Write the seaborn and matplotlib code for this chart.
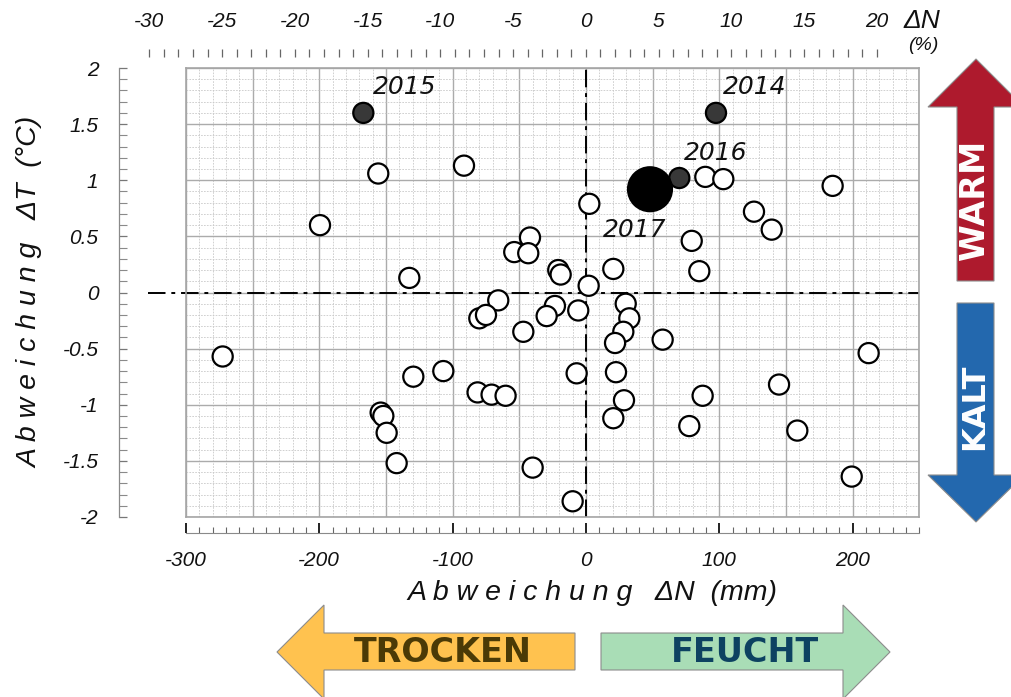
import numpy as np
import pandas as pd
import matplotlib
matplotlib.use("Agg")
import matplotlib.pyplot as plt
import seaborn as sns
from matplotlib.ticker import MultipleLocator, FuncFormatter
from matplotlib.patches import Polygon

# ---------------- data ----------------
# Abweichung Niederschlag (mm) and Temperatur (°C), one point per year
dN_mm = [-155.8, -91.5, -199.5, -132.5, 2.5, -42, -53.8, -43.3, -20.8, -19, 2,
         -65.8, -80, -75, -23.3, -29.5, -5.8, -47, -272.5, -129.5, -107, -7,
         -81.3, -70.8, -60.3, -154, -152, -149.5, -142, -40, -10,
         89.5, 103, 185, 126, 139.3, 79.3, 85, 20.5,
         29.8, 32.5, 28, 21.8, 57.5, 212, 22.5, 87.5, 144.8, 28.5, 20.5, 77.5,
         158.5, 199.3,
         97.5, -167, 70, 48]
dT_C = [1.06, 1.13, 0.60, 0.13, 0.79, 0.49, 0.36, 0.35, 0.20, 0.16, 0.06,
        -0.07, -0.23, -0.20, -0.12, -0.21, -0.16, -0.35, -0.57, -0.75, -0.70, -0.72,
        -0.89, -0.91, -0.92, -1.07, -1.10, -1.25, -1.52, -1.56, -1.86,
        1.03, 1.01, 0.95, 0.72, 0.56, 0.46, 0.19, 0.21,
        -0.10, -0.23, -0.35, -0.45, -0.42, -0.54, -0.71, -0.92, -0.82, -0.96, -1.12, -1.19,
        -1.23, -1.64,
        1.60, 1.60, 1.02, 0.92]
year_label = [""] * 53 + ["2014", "2015", "2016", "2017"]
kind = ["normal"] * 53 + ["recent", "recent", "recent", "current"]

x_ticks_mm = [-300, -200, -100, 0, 100, 200]
y_ticks_C = [2, 1.5, 1, 0.5, 0, -0.5, -1, -1.5, -2]
top_ticks_pct = [-30, -25, -20, -15, -10, -5, 0, 5, 10, 15, 20]

df = pd.DataFrame({"dN": dN_mm, "dT": dT_C, "year": year_label, "kind": kind})

# ---------------- figure ----------------
sns.set_theme(style="white")
plt.rcParams["font.family"] = ["Liberation Sans", "DejaVu Sans"]
plt.rcParams["axes.unicode_minus"] = False

W, H = 1012, 697
fig = plt.figure(figsize=(W / 100, H / 100), dpi=100)


def fx(px):
    return px / W


def fy(py):
    return 1 - py / H


# main plotting area
ax = fig.add_axes([fx(186), fy(517), fx(733.3), 449 / H])
ax.set_xlim(-300, 250)
ax.set_ylim(-2, 2)
ax.xaxis.set_major_locator(MultipleLocator(50))
ax.xaxis.set_minor_locator(MultipleLocator(10))
ax.yaxis.set_major_locator(MultipleLocator(0.5))
ax.yaxis.set_minor_locator(MultipleLocator(0.1))
ax.tick_params(which="both", length=0, labelbottom=False, labelleft=False)
ax.grid(which="major", color="#ababab", lw=1.0, ls="-")
ax.grid(which="minor", color="#c9c9c9", lw=0.6, ls=(0, (2, 1.5)))
ax.set_axisbelow(True)
for s in ax.spines.values():
    s.set_color("#a5a5a5")
    s.set_linewidth(1.2)

# reference lines
dashdot = (0, (9, 3, 2, 3))
ax.axhline(0, xmin=-0.052, xmax=1, color="black", lw=1.4, ls=dashdot,
           clip_on=False, zorder=2)
ax.axvline(0, color="black", lw=1.4, ls=dashdot, zorder=2)

sns.scatterplot(data=df, x="dN", y="dT", hue="kind", size="kind",
                palette={"normal": "white", "recent": "#383838", "current": "black"},
                sizes={"normal": 210, "recent": 210, "current": 1000},
                edgecolor="black", linewidth=1.6, legend=False, ax=ax, zorder=3)
ax.set_xlabel("")
ax.set_ylabel("")

offsets = {"2015": (30, 19), "2014": (28, 19), "2016": (26, 18), "2017": (-11, -29)}
for _, r in df[df["year"] != ""].iterrows():
    ax.annotate(r["year"], (r["dN"], r["dT"]), xytext=offsets[r["year"]],
                textcoords="offset points", ha="center", va="center",
                fontsize=18, style="italic", family="DejaVu Sans", color="#111111",
                zorder=5)

# bottom ruler (mm)
axb = fig.add_axes([fx(186), fy(533), fx(733.3), 0.0001])
axb.set_xlim(-300, 250)
axb.set_facecolor("none")
axb.set_yticks([])
axb.set_xticks(x_ticks_mm)
axb.xaxis.set_minor_locator(MultipleLocator(10))
for k in ["top", "left", "right"]:
    axb.spines[k].set_visible(False)
axb.spines["bottom"].set_color("#8a8a8a")
axb.spines["bottom"].set_linewidth(0.8)
axb.tick_params(axis="x", which="both", bottom=True, top=False)
axb.tick_params(axis="x", which="major", direction="in", length=7, width=1.3,
                color="#111111", pad=13, labelsize=15, labelcolor="#111111")
axb.tick_params(axis="x", which="minor", direction="in", length=4, width=0.8,
                color="#666666")
for t in axb.get_xticklabels():
    t.set_style("italic")

# left ruler (°C)
axl = fig.add_axes([fx(119.3), fy(517), 0.0001, 449 / H])
axl.set_ylim(-2, 2)
axl.set_facecolor("none")
axl.set_xticks([])
axl.set_yticks(y_ticks_C)
axl.yaxis.set_minor_locator(MultipleLocator(0.1))
axl.yaxis.set_major_formatter(FuncFormatter(lambda v, p: f"{v:g}"))
for k in ["top", "bottom", "right"]:
    axl.spines[k].set_visible(False)
axl.spines["left"].set_color("#8a8a8a")
axl.spines["left"].set_linewidth(0.9)
axl.tick_params(axis="y", which="both", left=True, right=False)
axl.tick_params(axis="y", which="major", direction="in", length=6, width=0.9,
                color="#777777", pad=15, labelsize=15, labelcolor="#111111")
axl.tick_params(axis="y", which="minor", direction="in", length=6, width=0.8,
                color="#8a8a8a")
for t in axl.get_yticklabels():
    t.set_style("italic")

# top ruler (%)
axt = fig.add_axes([fx(149.3), fy(57), fx(727.7), 0.0001])
axt.set_xlim(-30, 20)
axt.set_facecolor("none")
axt.set_yticks([])
axt.set_xticks(top_ticks_pct)
axt.xaxis.set_minor_locator(MultipleLocator(1))
for s in axt.spines.values():
    s.set_visible(False)
axt.tick_params(axis="x", which="both", top=True, bottom=False, labeltop=True,
                labelbottom=False, direction="out", length=6, width=0.9,
                color="#666666")
axt.tick_params(axis="x", which="major", pad=13, labelsize=15, labelcolor="#111111")
for t in axt.get_xticklabels():
    t.set_style("italic")

# axis titles
fig.text(fx(592), fy(593), "A b w e i c h u n g   ΔN  (mm)", ha="center", va="center",
         fontsize=20.5, style="italic", color="#111111")
fig.text(fx(30), fy(292), "A b w e i c h u n g   ΔT  (°C)", ha="center", va="center",
         rotation=90, fontsize=20.5, style="italic", color="#111111")
fig.text(fx(922), fy(21), "ΔN", ha="center", va="center", fontsize=19,
         style="italic", color="#111111")
fig.text(fx(923), fy(45), "(%)", ha="center", va="center", fontsize=14,
         style="italic", color="#111111")


# decorative arrows
def arrow(pts, color):
    poly = Polygon([(fx(x), fy(y)) for x, y in pts], closed=True,
                   transform=fig.transFigure, facecolor=color,
                   edgecolor="#8c8c8c", lw=0.8, zorder=1)
    fig.patches.append(poly)


arrow([(277, 652), (324, 605), (324, 633), (575, 633), (575, 670), (324, 670),
       (324, 699)], "#FFC24F")
arrow([(890, 652), (843, 605), (843, 633), (601, 633), (601, 670), (843, 670),
       (843, 699)], "#A9DDB6")
arrow([(976, 59), (1024, 107), (994, 107), (994, 281), (957, 281), (957, 107),
       (928, 107)], "#AE1A2D")
arrow([(976, 522), (1024, 475), (994, 475), (994, 303), (957, 303), (957, 475),
       (928, 475)], "#2368AE")

fig.text(fx(443), fy(652), "TROCKEN", ha="center", va="center", fontsize=24,
         weight="bold", family="DejaVu Sans", color="#4B3A06")
fig.text(fx(745), fy(652), "FEUCHT", ha="center", va="center", fontsize=24,
         weight="bold", family="DejaVu Sans", color="#0D4261")
fig.text(fx(975), fy(200), "WARM", ha="center", va="center", fontsize=24,
         rotation=90, weight="bold", family="DejaVu Sans", color="white")
fig.text(fx(975), fy(407), "KALT", ha="center", va="center", fontsize=23,
         rotation=90, weight="bold", family="DejaVu Sans", color="white")

fig.savefig("out.png", dpi=100)
